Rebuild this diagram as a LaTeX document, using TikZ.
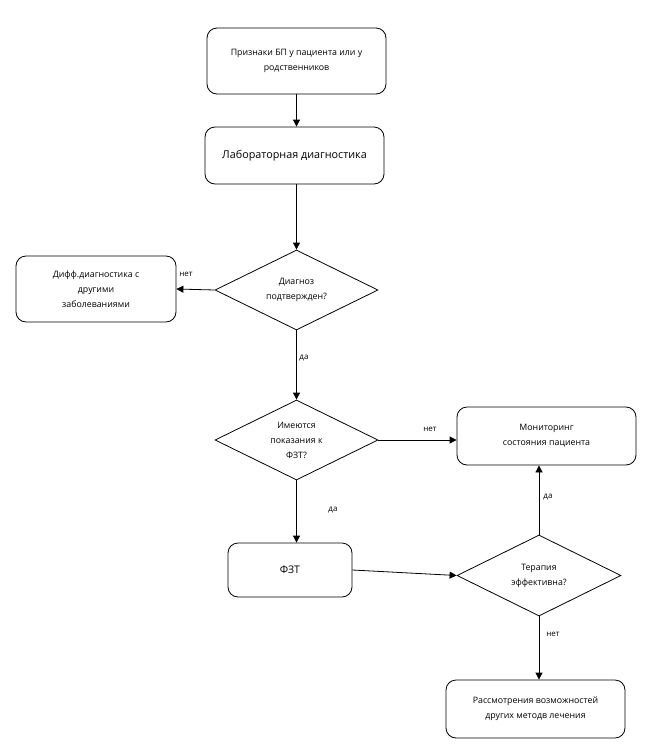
\documentclass[tikz,border=0pt]{standalone}
\usepackage{fontspec}
\setmainfont{Open Sans}
\usetikzlibrary{shapes.geometric,arrows.meta}
\begin{document}
\begin{tikzpicture}[x=1pt,y=-1pt,
  box/.style={draw=black,line width=0.8pt,rounded corners=10pt,align=center,font=\fontsize{8.8}{15}\selectfont,inner sep=2pt},
  dec/.style={draw=black,line width=0.8pt,diamond,aspect=2,inner sep=0pt,align=center,font=\fontsize{8.8}{15}\selectfont},
  arr/.style={line width=0.8pt,-{Triangle[length=7pt,width=7pt]}},
  lab/.style={font=\fontsize{8}{10}\selectfont,inner sep=0pt}]
\useasboundingbox (0,0) rectangle (655,753);
\node[box,minimum width=179pt,minimum height=66pt] (b1) at (296.5,61) {Признаки БП у пациента или у\\родственников};
\node[box,minimum width=179pt,minimum height=57pt,font=\fontsize{10.8}{13}\selectfont] (b2) at (294.5,155.5) {Лабораторная диагностика};
\node[dec,minimum width=163pt,minimum height=80pt] (d1) at (296.5,290) {Диагноз\\подтвержден?};
\node[box,minimum width=160pt,minimum height=66pt] (b3) at (96,289) {Дифф.диагностика с\\другими\\заболеваниями};
\node[dec,minimum width=163pt,minimum height=80pt] (d2) at (296.5,440) {Имеются\\показания к\\ФЗТ?};
\node[box,minimum width=179pt,minimum height=58pt] (b4) at (546.5,436) {Мониторинг\\состояния пациента};
\node[box,minimum width=124pt,minimum height=54pt,font=\fontsize{10.5}{12}\selectfont] (b5) at (290,570) {ФЗТ};
\node[dec,minimum width=164pt,minimum height=81pt] (d3) at (539,575.5) {Терапия\\эффективна?};
\node[box,minimum width=179pt,minimum height=58pt] (b6) at (535.5,709) {Рассмотрения возможностей\\других методв лечения};
\draw[arr] (b1.south -| d1.north) -- (b2.north -| d1.north);
\draw[arr] (b2.south -| d1.north) -- (d1.north);
\draw[arr] (d1.west) -- (b3.east);
\draw[arr] (d1.south) -- (d2.north);
\draw[arr] (d2.east) -- (b4.west |- d2.east);
\draw[arr] (d2.south) -- (d2.south |- b5.north);
\draw[arr] (b5.east) -- (d3.west);
\draw[arr] (d3.north) -- (d3.north |- b4.south);
\draw[arr] (d3.south) -- (d3.south |- b6.north);
\node[lab] (l1) at (186,274) {нет};
\node[lab] (l2) at (304,358) {да};
\node[lab] (l3) at (430,429) {нет};
\node[lab] (l4) at (333,510) {да};
\node[lab] (l5) at (548,497) {да};
\node[lab] (l6) at (553,634) {нет};
\end{tikzpicture}
\end{document}
